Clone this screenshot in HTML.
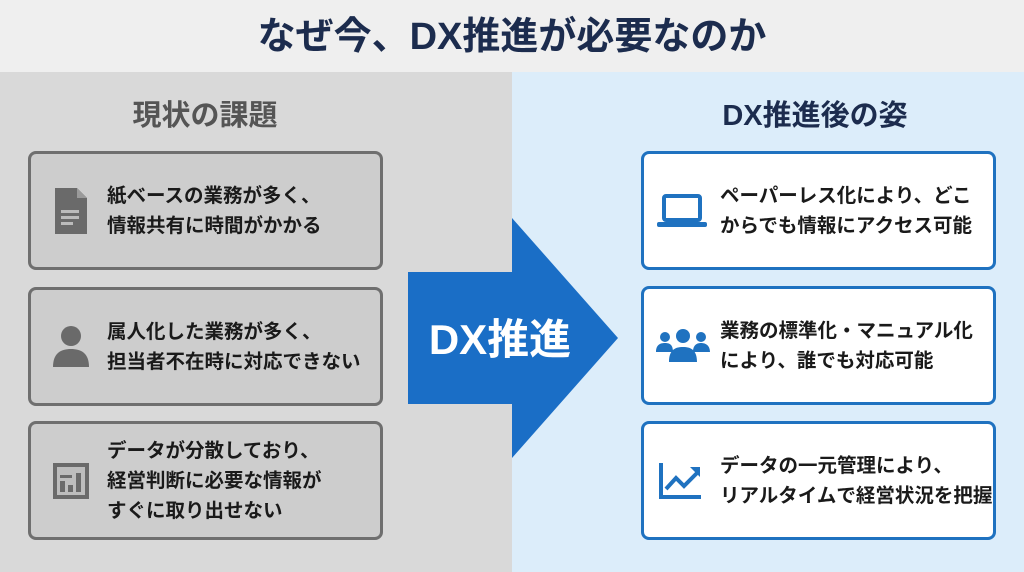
<!DOCTYPE html>
<html><head><meta charset="utf-8"><style>
*{margin:0;padding:0;box-sizing:border-box}
body{width:1024px;height:572px;overflow:hidden;position:relative;font-family:"Liberation Sans","Noto Sans CJK JP",sans-serif;font-weight:bold;background:#ddd}
.top{position:absolute;left:0;top:0;width:1024px;height:72px;background:#efefef;text-align:center;font-size:38px;line-height:74px;color:#1c2c4e}
.lp{position:absolute;left:0;top:72px;width:512px;height:500px;background:#d9d9d9}
.rp{position:absolute;left:512px;top:72px;width:512px;height:500px;background:#dcedfa}
.h{position:absolute;top:96px;font-size:29px;line-height:40px;width:300px;text-align:center}
.box{position:absolute;width:355px;height:119px;border-radius:8px;border:3px solid #6f6f6f;background:#cdcdcd;display:flex;align-items:center}
.box.r{border-color:#1f72c0;background:#fff}
.box .t{position:absolute;left:76px;font-size:19.5px;line-height:30px;color:#1a1a1a;white-space:nowrap}
.ic{position:absolute;left:20px}
</style></head><body>
<div class="top">なぜ今、DX推進が必要なのか</div>
<div class="lp"></div><div class="rp"></div>
<div class="h" style="left:55px;color:#555">現状の課題</div>
<div class="h" style="left:665px;color:#1c2c4e">DX推進後の姿</div>
<svg style="position:absolute;left:0;top:0" width="1024" height="572"><polygon points="408,272 512,272 512,218 618,338 512,458 512,404 408,404" fill="#1a6ec6"/>
<text x="500" y="354" font-size="42" fill="#fff" text-anchor="middle" font-family="Liberation Sans, Noto Sans CJK JP, sans-serif" font-weight="bold">DX推進</text></svg>

<div class="box" style="left:28px;top:151px"><svg class="ic" width="40" height="50" viewBox="0 0 40 50" style="left:20px"><path d="M4 2h22l10 10v36H4z" fill="#6a6a6a"/><path d="M26 2v10h10" fill="#9a9a9a"/><rect x="10" y="24" width="18" height="3" fill="#bbb"/><rect x="10" y="30" width="18" height="3" fill="#bbb"/><rect x="10" y="36" width="12" height="3" fill="#bbb"/></svg><div class="t">紙ベースの業務が多く、<br>情報共有に時間がかかる</div></div>
<div class="box" style="left:28px;top:287px"><svg class="ic" width="40" height="44" viewBox="0 0 40 44"><circle cx="20" cy="11" r="10" fill="#6a6a6a"/><path d="M2 42c0-14 8-18 18-18s18 4 18 18z" fill="#6a6a6a"/></svg><div class="t">属人化した業務が多く、<br>担当者不在時に対応できない</div></div>
<div class="box" style="left:28px;top:421px"><svg class="ic" width="40" height="40" viewBox="0 0 40 40"><rect x="2" y="2" width="36" height="36" fill="#6a6a6a"/><rect x="6" y="6" width="28" height="28" fill="#bdbdbd"/><rect x="9" y="20" width="5" height="11" fill="#6a6a6a"/><rect x="17" y="24" width="5" height="7" fill="#6a6a6a"/><rect x="25" y="12" width="5" height="19" fill="#6a6a6a"/><rect x="9" y="14" width="12" height="3" fill="#6a6a6a"/></svg><div class="t">データが分散しており、<br>経営判断に必要な情報が<br>すぐに取り出せない</div></div>

<div class="box r" style="left:641px;top:151px"><svg class="ic" width="52" height="36" viewBox="0 0 52 36" style="left:12px"><rect x="8" y="3" width="36" height="24" rx="2" fill="none" stroke="#1f72c0" stroke-width="4"/><rect x="1" y="29" width="50" height="5" rx="2" fill="#1f72c0"/></svg><div class="t">ペーパーレス化により、どこ<br>からでも情報にアクセス可能</div></div>
<div class="box r" style="left:641px;top:286px"><svg class="ic" width="54" height="36" viewBox="0 0 54 36" style="left:12px"><circle cx="9" cy="9" r="5" fill="#1f72c0"/><circle cx="45" cy="9" r="5" fill="#1f72c0"/><circle cx="27" cy="8" r="7" fill="#1f72c0"/><path d="M0 24c0-7 4-9 9-9s8 2 8 9z M37 24c0-7 4-9 8-9s9 2 9 9z M13 34c0-12 6-15 14-15s14 3 14 15z" fill="#1f72c0"/></svg><div class="t">業務の標準化・マニュアル化<br>により、誰でも対応可能</div></div>
<div class="box r" style="left:641px;top:421px"><svg class="ic" width="46" height="40" viewBox="0 0 46 40" style="left:14px"><path d="M3 2v34h40" fill="none" stroke="#1f72c0" stroke-width="4"/><path d="M8 28l10-11 8 8 14-14" fill="none" stroke="#1f72c0" stroke-width="4"/><path d="M32 6h10v10z" fill="#1f72c0"/></svg><div class="t">データの一元管理により、<br>リアルタイムで経営状況を把握</div></div>
</body></html>
